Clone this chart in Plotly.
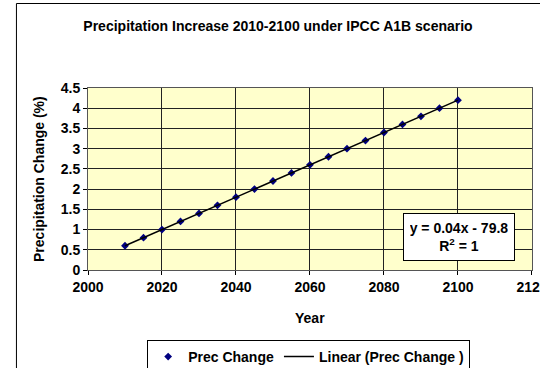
import plotly.graph_objects as go

years = [2010, 2015, 2020, 2025, 2030, 2035, 2040, 2045, 2050, 2055,
         2060, 2065, 2070, 2075, 2080, 2085, 2090, 2095, 2100]
prec_change = [0.6, 0.8, 1.0, 1.2, 1.4, 1.6, 1.8, 2.0, 2.2, 2.4,
               2.6, 2.8, 3.0, 3.2, 3.4, 3.6, 3.8, 4.0, 4.2]
trend_slope = 0.04
trend_intercept = -79.8
trend_years = [2010, 2100]
trend_vals = [trend_slope * y + trend_intercept for y in trend_years]

FS = 14
font = dict(family="Arial, Liberation Sans, sans-serif", size=FS, color="black")

fig = go.Figure()
fig.add_trace(go.Scatter(x=years, y=prec_change, mode="markers",
                         name="<b>Prec Change</b>",
                         marker=dict(symbol="diamond", size=6, color="#000080")))
fig.add_trace(go.Scatter(x=trend_years, y=trend_vals, mode="lines",
                         name="<b>Linear (Prec Change )</b>",
                         line=dict(color="black", width=1.5)))

# body margin is removed below, so layout coords = screen coords
L, T, R, B = 88, 88, 531.7, 270
PW, PH = R - L, B - T

fig.update_layout(
    width=540, height=368,
    margin=dict(l=L, r=540 - R, t=T, b=368 - B, autoexpand=False),
    paper_bgcolor="white",
    plot_bgcolor="#FFFFCC",
    font=font,
    title=dict(text="<b>Precipitation Increase 2010-2100 under IPCC A1B scenario</b>",
               x=278/540, xanchor="center", y=1-26/368, yanchor="middle",
               font=dict(size=FS)),
    showlegend=True,
    legend=dict(orientation="h", x=(308.5-L)/PW, xanchor="center",
                y=(B-340)/PH, yanchor="top",
                bordercolor="black", borderwidth=1, bgcolor="white",
                font=dict(size=FS), tracegroupgap=0, itemwidth=30),
    xaxis=dict(range=[2000, 2120.01], dtick=20, tick0=2000,
               showgrid=True, gridcolor="#222222", gridwidth=1,
               ticks="outside", ticklen=4, tickcolor="black",
               showline=True, linecolor="#555555", linewidth=1, mirror=True,
               zeroline=False, automargin=False, ticklabeloverflow="allow",
               tickfont=dict(size=FS),
               tickprefix="<b>", ticksuffix="</b>"),
    yaxis=dict(range=[0, 4.5], dtick=0.5, tick0=0,
               showgrid=True, gridcolor="#222222", gridwidth=1,
               ticks="outside", ticklen=4, tickcolor="black",
               showline=True, linecolor="#555555", linewidth=1, mirror=True,
               zeroline=False, automargin=False,
               tickfont=dict(size=FS),
               tickprefix="<b>", ticksuffix="</b>"),
)

# axis titles
fig.add_annotation(x=(39-L)/PW, y=0.5, xref="paper", yref="paper",
                   text="<b>Precipitation Change (%)</b>", textangle=-90,
                   showarrow=False, font=dict(size=FS), xanchor="center",
                   yanchor="middle")
fig.add_annotation(x=(309.5-L)/PW, y=(B-318)/PH, xref="paper", yref="paper",
                   text="<b>Year</b>", showarrow=False, font=dict(size=FS),
                   xanchor="center", yanchor="middle")

# trendline equation box
fig.add_annotation(x=2100.3, y=0.816, xref="x", yref="y",
                   text="<b>y = 0.04x - 79.8</b><br><b>R<sup>2</sup> = 1</b>",
                   showarrow=False, bgcolor="white", bordercolor="black",
                   borderwidth=1, borderpad=6, width=98, align="center",
                   font=dict(size=FS))

# outer chart border (left and top edges visible)
fig.add_shape(type="line", xref="paper", yref="paper",
              x0=(16.5-L)/PW, x1=1.1, y0=(B-3.5)/PH, y1=(B-3.5)/PH,
              line=dict(color="black", width=1))
fig.add_shape(type="line", xref="paper", yref="paper",
              x0=(16.5-L)/PW, x1=(16.5-L)/PW, y0=(B-3.5)/PH, y1=-0.6,
              line=dict(color="black", width=1))

fig.write_html("out.html", default_width="540px", default_height="368px",
               config={"displayModeBar": False},
               post_script="document.body.style.margin='0';"
                           "document.body.style.overflow='hidden';")
